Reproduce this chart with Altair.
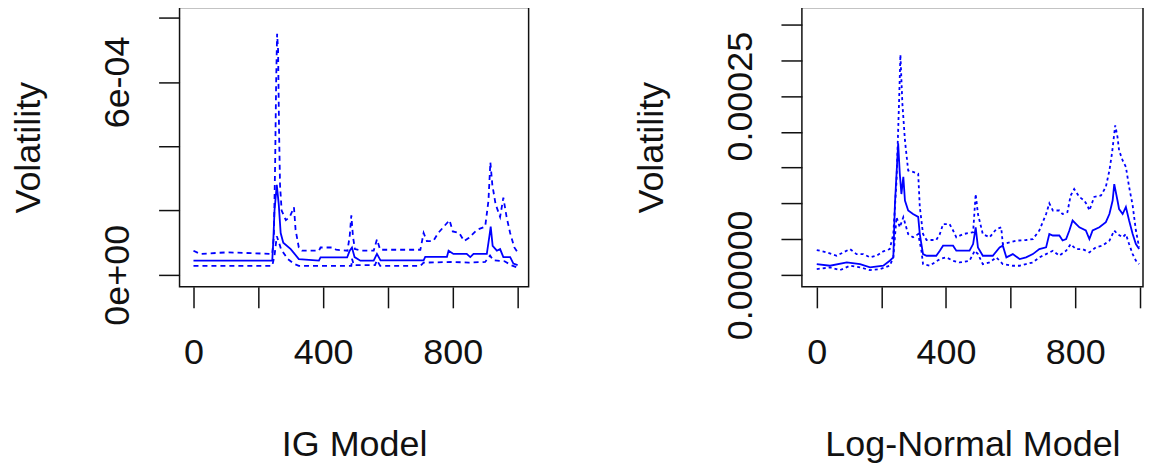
import altair as alt
import pandas as pd

# ---------------- IG Model (left panel) ----------------
ig_med_x = [0, 243, 246, 250, 257, 263, 269, 277, 300, 325, 387, 392, 474, 482, 489, 497, 515, 556, 566, 577,
            710, 715, 782, 787, 802, 843, 854, 864, 905, 913, 917, 923, 936, 946, 956, 977, 987, 1000]
ig_med_y = [0.44e-4, 0.44e-4, 1.0e-4, 2.0e-4, 2.8e-4, 2.2e-4, 1.3e-4, 1.0e-4, 0.8e-4, 0.49e-4,
            0.44e-4, 0.54e-4, 0.54e-4, 0.75e-4, 0.85e-4, 0.55e-4, 0.44e-4, 0.44e-4, 0.65e-4, 0.45e-4,
            0.45e-4, 0.56e-4, 0.56e-4, 0.75e-4, 0.65e-4, 0.65e-4, 0.55e-4, 0.65e-4, 0.65e-4, 1.2e-4,
            1.5e-4, 0.9e-4, 0.75e-4, 0.8e-4, 0.55e-4, 0.55e-4, 0.35e-4, 0.3e-4]

ig_up_x = [0, 20, 105, 243, 248, 252, 255, 258, 261, 264, 267, 272, 285, 297, 310, 315, 325, 335, 387, 392,
           430, 440, 475, 482, 487, 492, 498, 520, 556, 566, 576, 700, 710, 720, 740, 755, 790, 800, 820, 835,
           850, 875, 900, 910, 916, 922, 932, 946, 956, 966, 977, 990, 1000]
ig_up_y = [0.75e-4, 0.65e-4, 0.7e-4, 0.65e-4, 1.2e-4, 3.5e-4, 6.0e-4, 7.5e-4, 7.0e-4, 4.5e-4,
           2.8e-4, 2.0e-4, 1.7e-4, 1.8e-4, 2.1e-4, 1.4e-4, 0.85e-4, 0.75e-4, 0.75e-4, 0.85e-4,
           0.85e-4, 0.78e-4, 0.75e-4, 1.2e-4, 1.85e-4, 1.2e-4, 0.8e-4, 0.75e-4, 0.75e-4, 1.1e-4,
           0.78e-4, 0.78e-4, 1.3e-4, 1.05e-4, 1.05e-4, 1.3e-4, 1.7e-4, 1.35e-4, 1.3e-4, 1.05e-4,
           1.15e-4, 1.4e-4, 1.5e-4, 2.3e-4, 3.5e-4, 2.8e-4, 2.2e-4, 1.8e-4, 2.4e-4, 1.8e-4,
           1.3e-4, 0.85e-4, 0.7e-4]

ig_lo_x = [0, 243, 250, 257, 264, 270, 290, 310, 325, 487, 489, 495, 560, 566, 576, 700, 710, 800, 850, 900,
           915, 925, 960, 980, 1000]
ig_lo_y = [0.28e-4, 0.28e-4, 0.6e-4, 1.2e-4, 1.0e-4, 0.8e-4, 0.5e-4, 0.34e-4, 0.28e-4, 0.28e-4,
           0.5e-4, 0.3e-4, 0.3e-4, 0.45e-4, 0.28e-4, 0.28e-4, 0.38e-4, 0.4e-4, 0.38e-4, 0.4e-4,
           0.6e-4, 0.45e-4, 0.42e-4, 0.3e-4, 0.22e-4]

# ---------------- Log-Normal Model (right panel) ----------------
ln_med_x = [0, 41, 93, 134, 165, 206, 226, 237, 242, 252, 257, 262, 268, 273, 283, 298, 314, 319, 329, 340,
            370, 381, 391, 422, 432, 473, 484, 492, 499, 514, 545, 566, 576, 587, 607, 628, 648, 669, 689, 710,
            720, 731, 751, 761, 772, 782, 792, 813, 833, 844, 854, 875, 895, 906, 916, 921, 931, 936, 947, 957,
            967, 978, 988, 998]
ln_med_y = [1.5e-5, 1.27e-5, 1.73e-5, 1.5e-5, 1.03e-5, 1.27e-5, 1.97e-5, 2.44e-5, 9.9e-5, 18.4e-5,
            14.2e-5, 11.3e-5, 13.7e-5, 10.4e-5, 9.0e-5, 8.5e-5, 8.1e-5, 5.7e-5, 2.9e-5, 2.67e-5,
            2.67e-5, 3.37e-5, 4.08e-5, 4.08e-5, 3.37e-5, 3.37e-5, 4.3e-5, 6.65e-5, 3.84e-5, 2.67e-5,
            2.67e-5, 3.84e-5, 4.08e-5, 2.44e-5, 2.9e-5, 2.2e-5, 2.44e-5, 2.9e-5, 3.6e-5, 3.84e-5,
            5.7e-5, 5.5e-5, 5.5e-5, 4.8e-5, 5.0e-5, 6.2e-5, 7.6e-5, 6.65e-5, 6.2e-5, 5.0e-5,
            6.2e-5, 6.65e-5, 7.36e-5, 8.5e-5, 10.4e-5, 12.7e-5, 10.4e-5, 9.2e-5, 8.5e-5, 9.5e-5,
            7.6e-5, 5.7e-5, 4.3e-5, 3.6e-5]

ln_up_x = [0, 31, 62, 82, 103, 123, 144, 165, 185, 206, 226, 237, 247, 255, 259, 265, 273, 283, 298, 314,
           319, 329, 340, 370, 381, 391, 411, 422, 432, 453, 484, 492, 499, 514, 535, 556, 571, 576, 597, 617,
           648, 669, 689, 710, 720, 731, 751, 761, 776, 786, 797, 813, 828, 838, 844, 859, 880, 895, 906, 914,
           924, 931, 936, 947, 957, 967, 978, 988, 998]
ln_up_y = [3.47e-5, 3.14e-5, 2.67e-5, 3.14e-5, 3.6e-5, 2.9e-5, 2.9e-5, 2.44e-5, 2.67e-5, 3.28e-5,
           3.6e-5, 5.7e-5, 13.2e-5, 24.5e-5, 30.8e-5, 24.0e-5, 18.8e-5, 14.6e-5, 14.4e-5, 14.15e-5,
           9.5e-5, 5.7e-5, 4.87e-5, 4.87e-5, 5.7e-5, 7.1e-5, 7.1e-5, 6.2e-5, 5.25e-5, 5.7e-5,
           5.95e-5, 11.3e-5, 8.5e-5, 5.7e-5, 5.25e-5, 6.4e-5, 6.65e-5, 4.3e-5, 4.55e-5, 4.78e-5,
           4.87e-5, 5.0e-5, 6.2e-5, 8.5e-5, 10.0e-5, 9.0e-5, 9.0e-5, 8.5e-5, 8.76e-5, 11.1e-5,
           12.0e-5, 10.9e-5, 10.4e-5, 9.7e-5, 9.0e-5, 10.9e-5, 11.1e-5, 12.3e-5, 14.6e-5, 17.0e-5,
           20.9e-5, 19.3e-5, 17.4e-5, 16.0e-5, 15.1e-5, 12.3e-5, 9.7e-5, 6.2e-5, 3.84e-5]

ln_lo_x = [0, 41, 72, 103, 134, 165, 196, 226, 237, 247, 257, 268, 283, 298, 314, 324, 329, 350, 381, 401,
           422, 442, 473, 489, 499, 514, 535, 556, 576, 607, 628, 648, 669, 689, 710, 731, 751, 772, 786, 802,
           823, 844, 864, 885, 906, 921, 931, 947, 957, 967, 978, 988, 998]
ln_lo_y = [0.8e-5, 1.03e-5, 0.66e-5, 1.27e-5, 1.03e-5, 0.66e-5, 0.8e-5, 1.27e-5, 2.44e-5, 8.06e-5,
           6.65e-5, 8.06e-5, 5.7e-5, 5.25e-5, 5.7e-5, 3.37e-5, 1.5e-5, 1.27e-5, 2.2e-5, 2.44e-5,
           1.97e-5, 1.73e-5, 1.97e-5, 3.37e-5, 2.9e-5, 1.5e-5, 1.73e-5, 2.44e-5, 1.5e-5, 1.27e-5,
           1.27e-5, 1.5e-5, 1.73e-5, 2.44e-5, 2.9e-5, 3.37e-5, 2.67e-5, 3.37e-5, 4.3e-5, 3.6e-5,
           3.6e-5, 3.14e-5, 3.84e-5, 4.08e-5, 4.78e-5, 6.2e-5, 5.7e-5, 5.25e-5, 5.7e-5, 4.3e-5,
           2.9e-5, 1.97e-5, 1.5e-5]

x_ticks = [0, 200, 400, 600, 800, 1000]
ig_y_ticks = [0, 2e-4, 4e-4, 6e-4, 8e-4]
ln_y_ticks = [0, 5e-5, 1e-4, 1.5e-4, 2e-4, 2.5e-4, 3e-4, 3.5e-4]

FONT = "Liberation Sans"
BLUE = "#0000FF"
FS = 36


def x_axis(title):
    return alt.Axis(values=x_ticks,
                    labelExpr="(datum.value == 0 || datum.value == 400 || datum.value == 800) ? datum.label : ''",
                    title=title, grid=False, domain=False, tickSize=21, tickColor="#111", tickWidth=1.5,
                    labelPadding=56, labelBaseline="alphabetic", labelFont=FONT, labelFontSize=FS,
                    labelColor="#111", labelOverlap=False, labelFlush=False,
                    titleFont=FONT, titleFontSize=FS, titleFontWeight="normal", titleColor="#111",
                    titleBaseline="alphabetic", titleY=169)


def y_axis(values, expr):
    return alt.Axis(values=values, labelExpr=expr, title="Volatility", grid=False, domain=False,
                    tickSize=21, tickColor="#111", tickWidth=1.5, labelAngle=270, labelAlign="center",
                    labelBaseline="alphabetic", labelPadding=30, labelFont=FONT, labelFontSize=FS,
                    labelColor="#111", labelOverlap=False, labelFlush=False,
                    titleFont=FONT, titleFontSize=FS, titleFontWeight="normal", titleColor="#111",
                    titleAngle=270, titleAlign="center", titleBaseline="alphabetic", titleX=-140)


def panel(series, xdom, ydom, yvals, yexpr, xtitle, width, height):
    layers = []
    for xs, ys, d in series:
        df = pd.DataFrame({"t": xs, "v": ys})
        kw = {"strokeDash": d} if d else {}
        layers.append(
            alt.Chart(df).mark_line(color=BLUE, strokeWidth=1.8, **kw).encode(
                x=alt.X("t:Q", scale=alt.Scale(domain=xdom, nice=False, zero=False), axis=x_axis(xtitle)),
                y=alt.Y("v:Q", scale=alt.Scale(domain=ydom, nice=False, zero=False),
                        axis=y_axis(yvals, yexpr)),
            )
        )
    return alt.layer(*layers).properties(width=width, height=height)


ig_expr = "datum.value == 0 ? '0e+00' : (abs(datum.value - 0.0006) < 1e-10 ? '6e-04' : '')"
ln_expr = "datum.value == 0 ? '0.00000' : (abs(datum.value - 0.00025) < 1e-10 ? '0.00025' : '')"

left = panel([(ig_med_x, ig_med_y, None), (ig_up_x, ig_up_y, [5, 4]), (ig_lo_x, ig_lo_y, [5, 4])],
             [-43, 1034], [-3.75e-5, 8.3125e-4], ig_y_ticks, ig_expr, "IG Model", 350, 280)
right = panel([(ln_med_x, ln_med_y, None), (ln_up_x, ln_up_y, [3, 3]), (ln_lo_x, ln_lo_y, [3, 3])],
              [-46, 1010], [-1.687e-5, 3.739e-4], ln_y_ticks, ln_expr, "Log-Normal Model", 342, 280)

chart = alt.hconcat(left, right, spacing=103).properties(
    padding={"left": 2, "top": -2, "right": 0, "bottom": 0}
).configure(
    background="white",
    view=alt.ViewConfig(stroke="#111", strokeWidth=1.5),
)

chart.save("out.html", embed_options={"renderer": "svg", "actions": False})
